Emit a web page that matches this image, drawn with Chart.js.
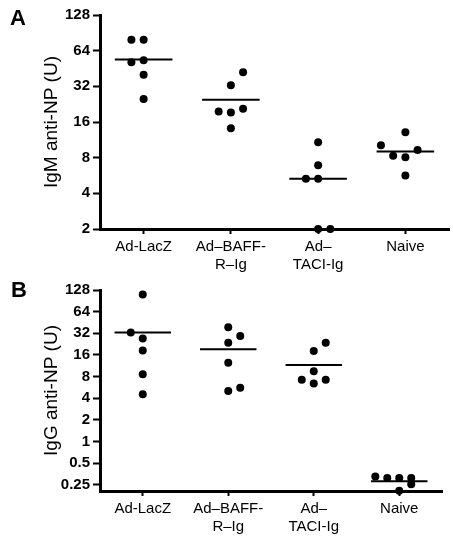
<!DOCTYPE html>
<html>
<head>
<meta charset="utf-8">
<script src="https://cdn.jsdelivr.net/npm/chart.js@4.4.0/dist/chart.umd.min.js"></script>
<style>
  body { margin: 0; background: #fff; }
  #wrap { position: relative; width: 453px; height: 543px; overflow: hidden; }
  canvas { position: absolute; left: 0; }
  .panel { position: absolute; font: bold 22px 'Liberation Sans', Arial, sans-serif; color: #000; }
</style>
</head>
<body>
<div id="wrap">
  <canvas id="chartA" width="453" height="290" style="top:0"></canvas>
  <canvas id="chartB" width="453" height="273" style="top:270px"></canvas>
  <div class="panel" style="left:10px;top:5px">A</div>
  <div class="panel" style="left:11px;top:277px">B</div>
</div>
<script>
const categories = [['Ad-LacZ'], ['Ad\u2013BAFF-', 'R\u2013Ig'], ['Ad\u2013', 'TACI-Ig'], ['Naive']];
const ticksA = [2, 4, 8, 16, 32, 64, 128];
const ticksB = [0.25, 0.5, 1, 2, 4, 8, 16, 32, 64, 128];

// panel A, IgM anti-NP (U)
const igmLacZ = [79, 79, 51, 53, 40, 25];
const igmBaff = [42, 32.7, 19.6, 19.2, 20.7, 14.2];
const igmTaci = [10.8, 6.9, 5.3, 5.3, 2, 2];
const igmNaive = [13.1, 10.2, 8.3, 8.05, 9.3, 5.67];
const igmMedian = [54, 24.6, 5.3, 9.0];
// column of each dot inside its group (-2 .. 1)
const igmSlots = [[-1, 0, -1, 0, 0, 0], [1, 0, -1, 0, 1, 0], [0, 0, -1, 0, 0, 1], [0, -2, -1, 0, 1, 0]];

// panel B, IgG anti-NP (U)
const iggLacZ = [111, 32.7, 27, 18.4, 8.6, 4.55];
const iggBaff = [38.9, 29.4, 23.7, 12.5, 5.06, 5.58];
const iggTaci = [23.6, 18.1, 9.5, 7.2, 7.2, 6.4];
const iggNaive = [0.325, 0.31, 0.31, 0.31, 0.255, 0.206];
const iggMedian = [32.7, 19.2, 11.6, 0.28];
const iggSlots = [[0, -1, 0, 0, 0, 0], [0, 1, 0, 0, 0, 1], [1, 0, 0, -1, 1, 0], [-2, -1, 0, 1, 1, 0]];

const FONT = "'Liberation Sans', Arial, sans-serif";
const slotStep = 0.14;
const halfLine = 0.33;

function makeChart(id, groups, slots, medians, tickVals, yTitle, yMin, yMax, opt) {
    const dots = [];
    groups.forEach((vals, g) => {
        vals.forEach((v, j) => dots.push({x: g + 1 + slots[g][j] * slotStep, y: v}));
    });
    const datasets = [{
        type: 'scatter',
        data: dots,
        pointRadius: 4,
        pointBackgroundColor: '#000',
        pointBorderWidth: 0,
        clip: false
    }];
    medians.forEach((m, g) => {
        datasets.push({
            type: 'line',
            data: [{x: g + 1 - halfLine, y: m}, {x: g + 1 + halfLine, y: m}],
            borderColor: '#000',
            borderWidth: 2,
            pointRadius: 0,
            clip: false
        });
    });

    new Chart(document.getElementById(id).getContext('2d'), {
        type: 'scatter',
        data: {datasets: datasets},
        options: {
            responsive: false,
            animation: false,
            layout: {padding: {left: 40, right: opt.right, top: opt.top, bottom: 0}},
            plugins: {legend: {display: false}, tooltip: {enabled: false}},
            scales: {
                x: {
                    type: 'linear',
                    min: 0.5,
                    max: 4.5,
                    afterBuildTicks: s => { s.ticks = [1, 2, 3, 4].map(v => ({value: v})); },
                    afterFit: s => { s.height = opt.xHeight; },
                    border: {color: '#000', width: 3},
                    grid: {drawOnChartArea: false, tickLength: 5, tickColor: '#000', tickWidth: 2},
                    ticks: {
                        color: '#000',
                        padding: 4,
                        maxRotation: 0,
                        autoSkip: false,
                        font: {family: FONT, size: 15, lineHeight: 1.2},
                        callback: v => categories[v - 1]
                    }
                },
                y: {
                    type: 'logarithmic',
                    min: yMin,
                    max: yMax,
                    afterBuildTicks: s => { s.ticks = tickVals.map(v => ({value: v})); },
                    afterFit: s => { s.width = 60; },
                    border: {color: '#000', width: 3},
                    grid: {drawOnChartArea: false, tickLength: 7, tickColor: '#000', tickWidth: 2},
                    ticks: {
                        color: '#000',
                        padding: 3,
                        font: {family: FONT, size: 15, weight: 'bold'},
                        callback: v => String(v)
                    },
                    title: {
                        display: true,
                        text: yTitle,
                        color: '#000',
                        padding: 0,
                        font: {family: FONT, size: 19}
                    }
                }
            }
        }
    });
}

makeChart('chartA', [igmLacZ, igmBaff, igmTaci, igmNaive], igmSlots, igmMedian, ticksA,
    'IgM anti-NP (U)', 2, 128, {top: 15, right: 3, xHeight: 61});
makeChart('chartB', [iggLacZ, iggBaff, iggTaci, iggNaive], iggSlots, iggMedian, ticksB,
    'IgG anti-NP (U)', 0.205, 128, {top: 20, right: 11, xHeight: 52});
</script>
</body>
</html>
